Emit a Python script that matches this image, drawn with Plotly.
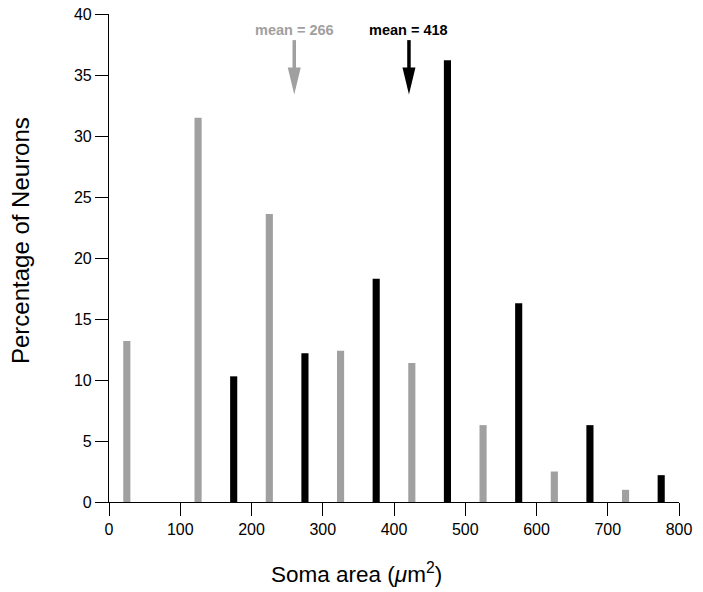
import plotly.graph_objects as go

# Data
gray_x = [25, 125, 225, 325, 425, 525, 625, 725]
gray_pct = [13.2, 31.5, 23.6, 12.4, 11.4, 6.3, 2.5, 1.0]
black_x = [175, 275, 375, 475, 575, 675, 775]
black_pct = [10.3, 12.2, 18.3, 36.2, 16.3, 6.3, 2.2]
mean_labels = ["mean = 266", "mean = 418"]
mean_pos = [260, 421]
x_ticks = [0, 100, 200, 300, 400, 500, 600, 700, 800]
y_ticks = [0, 5, 10, 15, 20, 25, 30, 35, 40]

GRAY = "#a0a0a0"
BLACK = "#000000"
FONT = "Liberation Sans, Arial, Helvetica, sans-serif"

# page body has an 8px default margin; compensate so the plot lands where the reference has it
W, H = 695, 584
ML, MR, MT, MB = 101, 24, 6, 90
PW, PH = W - ML - MR, H - MT - MB

fig = go.Figure()
fig.add_trace(go.Bar(x=gray_x, y=gray_pct, width=10, marker=dict(color=GRAY, line=dict(width=0)), showlegend=False))
fig.add_trace(go.Bar(x=black_x, y=black_pct, width=10, marker=dict(color=BLACK, line=dict(width=0)), showlegend=False))

colors = [GRAY, BLACK]
for label, xp, col in zip(mean_labels, mean_pos, colors):
    fig.add_shape(type="line", xref="x", yref="y", x0=xp, x1=xp, y0=37.86, y1=35.3,
                  line=dict(color=col, width=3.5))
    fig.add_shape(type="path", xref="x", yref="y", xsizemode="pixel", ysizemode="pixel",
                  xanchor=xp, yanchor=33.4, path="M-6.5,27 L6.5,27 L0,0 Z",
                  fillcolor=col, line=dict(width=0))
    fig.add_annotation(x=xp, y=38.7, xref="x", yref="y", text="<b>%s</b>" % label,
                       showarrow=False, font=dict(family=FONT, size=14.5, color=col),
                       xanchor="center", yanchor="middle")

# Axis titles as annotations (to match off-center placement)
fig.add_annotation(text="Percentage of Neurons", textangle=-90, xref="paper", yref="paper",
                   x=(12 - ML) / PW, y=(MT + PH - 232) / PH, xanchor="center", yanchor="middle",
                   showarrow=False, font=dict(family=FONT, size=24, color="black"))
fig.add_annotation(text="Soma area (<i>μ</i>m<sup>2</sup>)", xref="paper", yref="paper",
                   x=(348.5 - ML) / PW, y=(MT + PH - 565) / PH, xanchor="center", yanchor="middle",
                   showarrow=False, font=dict(family=FONT, size=22.5, color="black"))

fig.update_layout(
    width=W, height=H,
    margin=dict(l=ML, r=MR, t=MT, b=MB, autoexpand=False),
    plot_bgcolor="white", paper_bgcolor="white",
    barmode="overlay",
    font=dict(family=FONT, size=16, color="black"),
    xaxis=dict(range=[0, 800], tickvals=x_ticks, ticks="outside", ticklen=13, tickwidth=1.2,
               tickcolor="black", showline=True, linecolor="black", linewidth=1.2,
               showgrid=False, zeroline=False, tickfont=dict(size=16),
               ticklabeloverflow="allow", automargin=False),
    yaxis=dict(range=[0, 40], tickvals=y_ticks, ticks="outside", ticklen=13, tickwidth=1.2,
               tickcolor="black", showline=True, linecolor="black", linewidth=1.2,
               showgrid=False, zeroline=False, tickfont=dict(size=16),
               ticklabeloverflow="allow", automargin=False),
)

fig.write_html("out.html")
